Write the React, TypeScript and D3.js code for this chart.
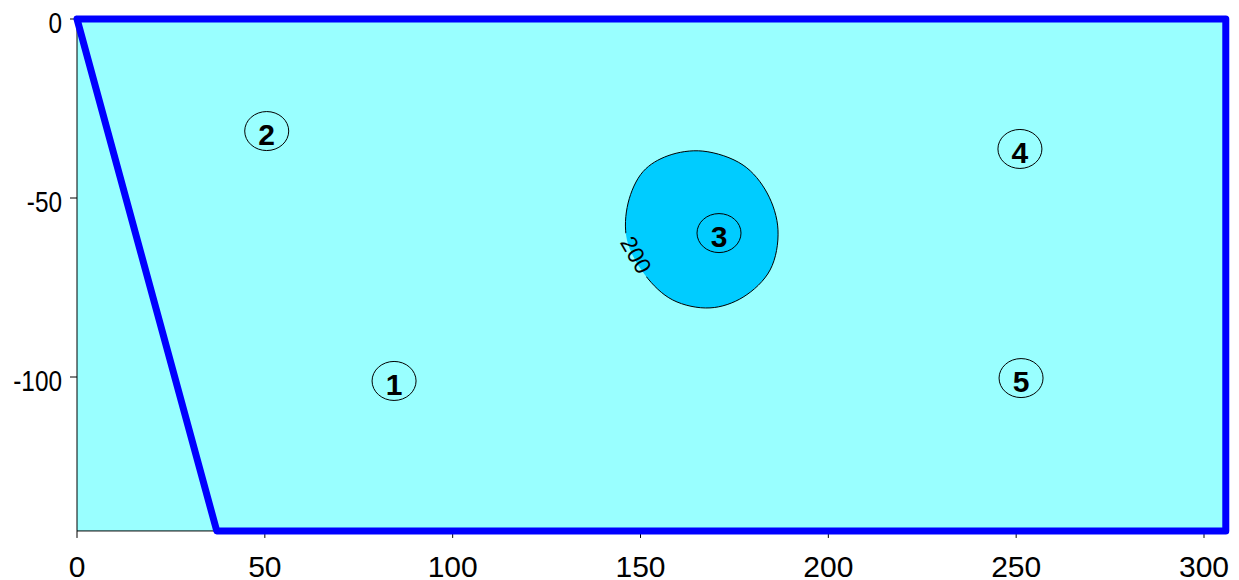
import React from "react";
import * as d3 from "d3";

const xTicks = [0, 50, 100, 150, 200, 250, 300];
const yTicks = [0, -50, -100];
const boundaryX = [0, 305.8, 305.8, 37.2, 0];
const boundaryY = [0, 0, -143, -143, 0];
const contourX = [166.6, 177.3, 183.7, 186.6, 184.5, 177.3, 168.5, 158.6, 151.2, 146.4, 146.7, 150.7, 157.3];
const contourY = [-36.9, -40.8, -48.6, -58.9, -70.1, -77.7, -80.7, -78.5, -71.5, -61.7, -51.4, -42.6, -38.2];
const contourLabel = "200";
const wellIds = ["1", "2", "3", "4", "5"];
const wellX = [84.4, 50.5, 170.9, 251, 251.3];
const wellY = [-101.1, -31.3, -59.8, -36.3, -100.3];

const W = 1239;
const H = 580;

export default function App() {
  const x = d3.scaleLinear().domain([0, 300]).range([77, 1204]);
  const y = d3.scaleLinear().domain([0, -100]).range([19, 377]);
  const xMax = 305.8;
  const yMin = -143;

  const boundary = d3.line<number>()
    .x((_, i) => x(boundaryX[i]))
    .y((_, i) => y(boundaryY[i]))(boundaryX.map((_, i) => i)) as string;

  const contour = d3.line<number>()
    .x((_, i) => x(contourX[i]))
    .y((_, i) => y(contourY[i]))
    .curve(d3.curveCatmullRomClosed.alpha(0.5))(contourX.map((_, i) => i)) as string;

  const lx = x(148.8);
  const ly = y(-65.9);
  const font = "Arial, 'Liberation Sans', sans-serif";

  return (
    <svg width={W} height={H} style={{ position: "absolute", left: 0, top: 0 }} fontFamily={font}>
      <defs>
        <mask id="lblmask">
          <rect x={0} y={0} width={W} height={H} fill="white" />
          <rect x={lx - 24} y={ly - 11} width={48} height={22} fill="black"
            transform={`rotate(60 ${lx} ${ly})`} />
        </mask>
      </defs>
      <rect x={x(0)} y={y(0)} width={x(xMax) - x(0)} height={y(yMin) - y(0)} fill="#99FFFF" />
      <path d={contour} fill="#00CCFF" stroke="none" />
      <path d={contour} fill="none" stroke="#000" strokeWidth={1} mask="url(#lblmask)" />
      <text x={lx} y={ly} fontSize={23} textAnchor="middle" dominantBaseline="central"
        transform={`rotate(60 ${lx} ${ly})`} fill="#000">{contourLabel}</text>

      {/* axes */}
      <line x1={x(0)} x2={x(0)} y1={y(0)} y2={y(yMin)} stroke="#000" strokeWidth={1} />
      <line x1={x(0)} x2={x(xMax)} y1={y(yMin)} y2={y(yMin)} stroke="#000" strokeWidth={1} />
      {yTicks.map((t) => (
        <g key={"y" + t}>
          <line x1={x(0) - 7} x2={x(0)} y1={y(t)} y2={y(t)} stroke="#000" strokeWidth={1} />
          <text transform={`translate(${x(0) - 15},${y(t) + 14}) scale(0.84,1)`} fontSize={29} textAnchor="end">{t}</text>
        </g>
      ))}
      {xTicks.map((t) => (
        <g key={"x" + t}>
          <line x1={x(t)} x2={x(t)} y1={y(yMin)} y2={y(yMin) + 7} stroke="#000" strokeWidth={1} />
          <text x={x(t)} y={y(yMin) + 46} fontSize={30} textAnchor="middle">{t}</text>
        </g>
      ))}

      <path d={boundary} fill="none" stroke="#0000FF" strokeWidth={7} strokeLinejoin="round" strokeLinecap="round" />

      {wellIds.map((id, i) => (
        <g key={id}>
          <ellipse cx={x(wellX[i])} cy={y(wellY[i])} rx={22} ry={19.5} fill="none" stroke="#000" strokeWidth={1} />
          <text x={x(wellX[i])} y={y(wellY[i]) + 14} fontSize={30} fontWeight="bold" textAnchor="middle">{id}</text>
        </g>
      ))}
    </svg>
  );
}
